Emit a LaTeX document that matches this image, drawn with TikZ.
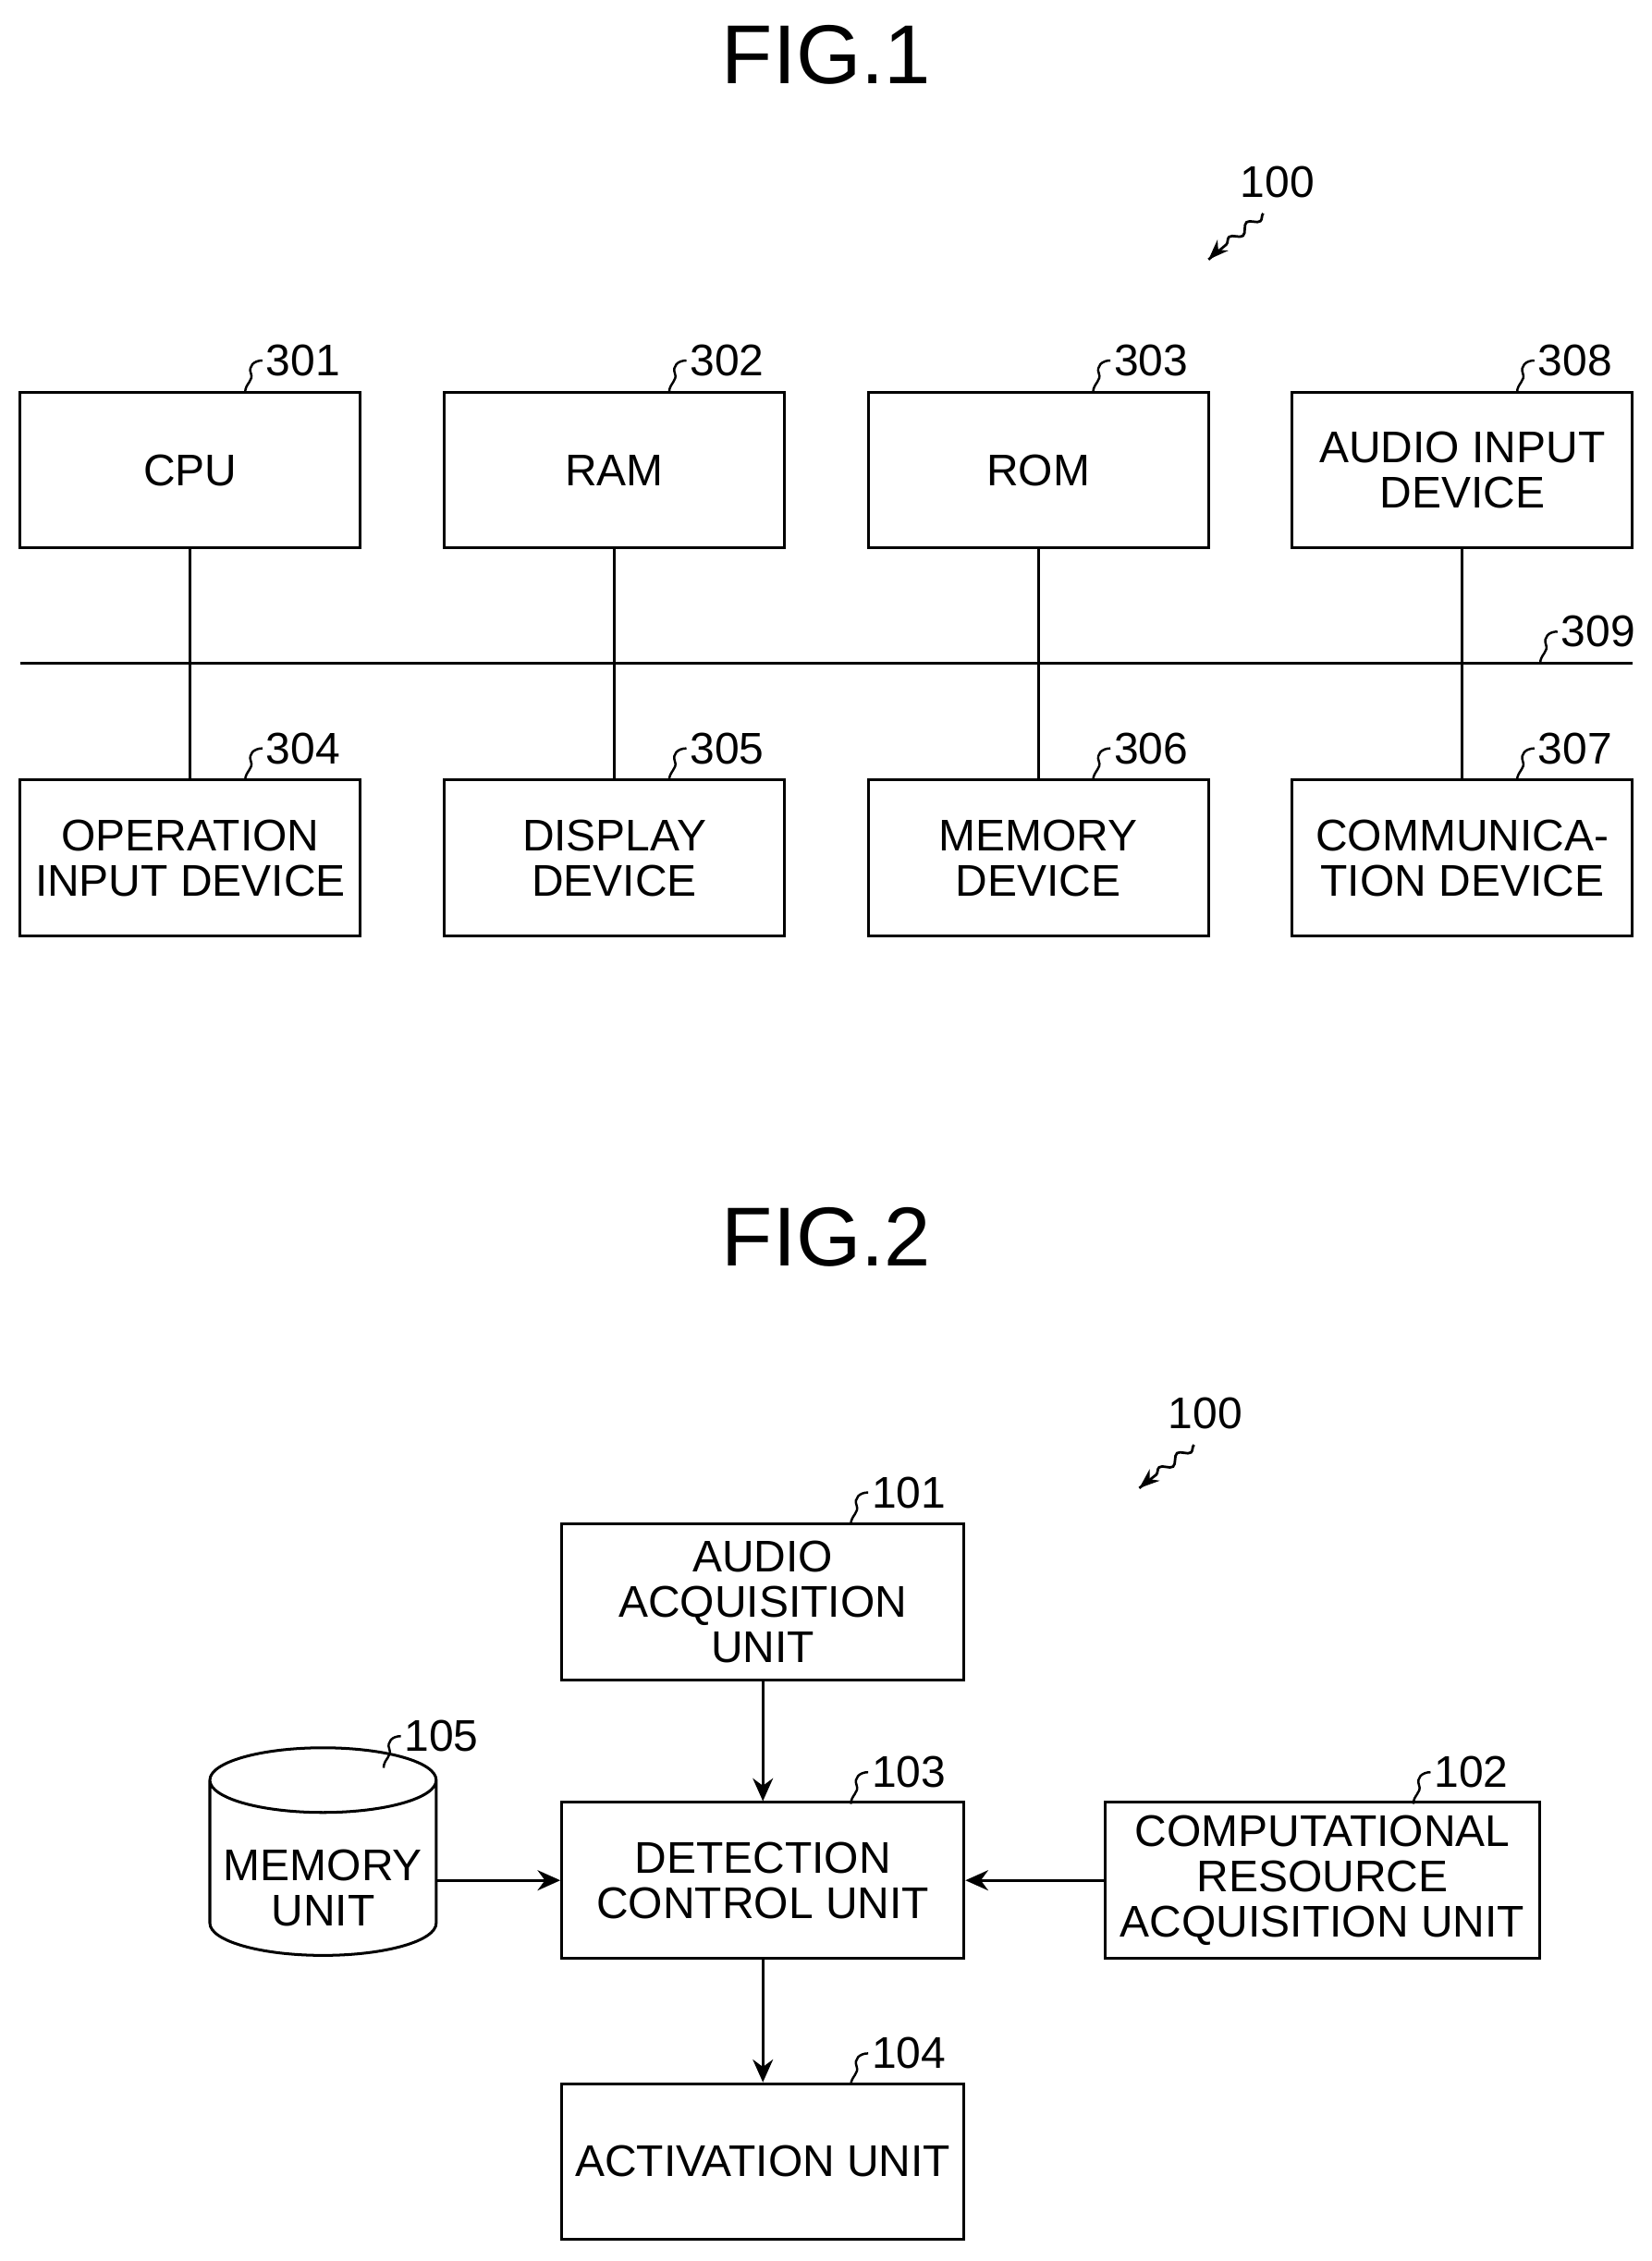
\documentclass[tikz,border=0pt]{standalone}
\usepackage{fontspec}
\setmainfont{Liberation Sans}
\usetikzlibrary{arrows.meta, positioning, shapes.geometric, decorations.pathmorphing}

\tikzset{
  box/.style={draw, line width=1.1pt, minimum width=4.72cm, minimum height=2.16cm, align=center, font=\fontsize{17.5}{21}\selectfont, inner sep=2pt},
  wide/.style={box, minimum width=5.58cm},
  title/.style={font=\fontsize{33}{38}\selectfont},
  refnum/.style={font=\fontsize{17.5}{21}\selectfont, anchor=west, inner sep=1pt},
  link/.style={line width=1.1pt},
  flow/.style={line width=1.1pt, -{Stealth[length=9pt,width=8pt]}},
  wave/.style={line width=1pt, decorate, decoration={snake, amplitude=1.6pt, segment length=9pt, post length=5pt}},
}
% leader squiggle from a box edge up to its reference number
\newcommand{\leader}[3]{%
  \draw[line width=0.9pt] (#1,#2) .. controls (#1,#2-6) and (#1+6,#2-8) .. (#1+4,#2-13)
    .. controls (#1+2,#2-18) and (#1+6,#2-22) .. (#1+12,#2-22)
    node[refnum] {#3};}

\begin{document}
\begin{tikzpicture}[x=0.02cm, y=-0.02cm]
  \useasboundingbox (0,0) rectangle (1145,1568);

  % FIG.1
  \node[title] (fig1) at (573,38) {FIG.1};
  \node[refnum] (n100a) at (858,126) {100};
  \draw[wave] (876,148) -- (838,180);
  \draw[-{Stealth[length=8pt]}, line width=1pt] (845,173) -- (838,180);

  \node[box] (cpu) at (132,326) {CPU};
  \node[box] (ram) at (426,326) {RAM};
  \node[box] (rom) at (720,326) {ROM};
  \node[box] (audin) at (1014,326) {AUDIO INPUT\\[-3pt]DEVICE};
  \node[box] (opin) at (132,595) {OPERATION\\[-3pt]INPUT DEVICE};
  \node[box] (disp) at (426,595) {DISPLAY\\[-3pt]DEVICE};
  \node[box] (mem) at (720,595) {MEMORY\\[-3pt]DEVICE};
  \node[box] (comm) at (1014,595) {COMMUNICA-\\[-3pt]TION DEVICE};

  \coordinate (busL) at (14,460);
  \coordinate (busR) at (1132,460);
  \draw[link] (busL) -- (busR);
  \draw[link] (cpu) -- (opin);
  \draw[link] (ram) -- (disp);
  \draw[link] (rom) -- (mem);
  \draw[link] (audin) -- (comm);

  \leader{170}{272}{301}
  \leader{464}{272}{302}
  \leader{758}{272}{303}
  \leader{1052}{272}{308}
  \leader{170}{541}{304}
  \leader{464}{541}{305}
  \leader{758}{541}{306}
  \leader{1052}{541}{307}
  \leader{1068}{460}{309}

  % FIG.2
  \node[title] (fig2) at (573,858) {FIG.2};
  \node[refnum] (n100b) at (808,980) {100};
  \draw[wave] (828,1002) -- (790,1032);
  \draw[-{Stealth[length=8pt]}, line width=1pt] (797,1026) -- (790,1032);

  \node[box, minimum width=5.58cm] (acq) at (529,1111) {AUDIO\\[-3pt]ACQUISITION\\[-3pt]UNIT};
  \node[box, minimum width=5.58cm] (det) at (529,1304) {DETECTION\\[-3pt]CONTROL UNIT};
  \node[box, minimum width=5.58cm] (act) at (529,1499) {ACTIVATION UNIT};
  \node[box, minimum width=6.02cm] (res) at (917,1304) {COMPUTATIONAL\\[-3pt]RESOURCE\\[-3pt]ACQUISITION UNIT};
  \node[cylinder, draw, line width=1.1pt, shape border rotate=90, aspect=0.3,
        minimum width=3.14cm, minimum height=2.88cm, align=center,
        font=\fontsize{17.5}{21}\selectfont] (memu) at (224,1300) {\\[2pt]MEMORY\\[-3pt]UNIT};

  \draw[flow] (acq) -- (det);
  \draw[flow] (det) -- (act);
  \draw[flow] (res) -- (det);
  \draw[flow] (memu.east |- det) -- (det);

  \leader{590}{1057}{101}
  \leader{590}{1251}{103}
  \leader{590}{1446}{104}
  \leader{980}{1251}{102}
  \leader{266}{1226}{105}
\end{tikzpicture}
\end{document}
